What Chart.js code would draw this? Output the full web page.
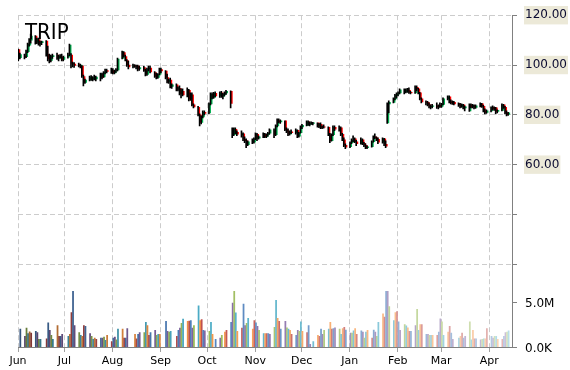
<!DOCTYPE html>
<html lang="en">
<head>
<meta charset="UTF-8">
<title>TRIP</title>
<script src="https://cdn.jsdelivr.net/npm/chart.js"></script>
<style>
  html, body { margin: 0; padding: 0; background: #fff; }
  #wrap { width: 570px; height: 370px; }
</style>
</head>
<body>
<div id="wrap"><canvas id="chart" width="570" height="370"></canvas></div>
<script>
const tickerName = 'TRIP';
const firstDay = '2017-06-01';
const monthStarts = ['2017-06-01', '2017-07-01', '2017-08-01', '2017-09-01', '2017-10-01', '2017-11-01',
                     '2017-12-01', '2018-01-01', '2018-02-01', '2018-03-01', '2018-04-01'];
const monthLabels = ['Jun', 'Jul', 'Aug', 'Sep', 'Oct', 'Nov', 'Dec', 'Jan', 'Feb', 'Mar', 'Apr'];
const priceTicks = [20, 40, 60, 80, 100, 120];
const priceLabels = ['', '', '60.00', '80.00', '100.00', '120.00'];
const volumeTicks = [0, 5];
const volumeLabels = ['0.0K', '5.0M'];

// one line per week, Mon..Fri (the first week starts on a Thursday)
const opens = [
  106.2, 103.0,
  103.6, 103.4, 105.4, 108.0, 110.0,
  111.6, 109.2, 110.2, 108.6, 109.0,
  109.6, 104.2, 102.6, 101.8, 103.4,
  104.0, 102.6, 103.4, 103.2, 102.2,
  103.2, 104.2, 104.0, 100.6, 100.4,
  100.2, 99.6, 99.6, 95.4, 93.0,
  94.0, 95.0, 94.2, 95.0, 94.4,
  95.0, 96.4, 95.2, 97.0, 97.8,
  97.4, 97.8, 96.8, 97.6, 98.0,
  102.6, 105.0, 103.4, 101.8, 100.0,
  99.4, 99.8, 99.4, 99.6, 98.4,
  99.0, 97.8, 96.2, 98.4, 98.8,
  97.0, 95.4, 95.0, 96.2, 98.2,
  97.6, 95.0, 93.4, 94.0, 91.4,
  92.0, 90.2, 90.6, 88.4, 89.4,
  88.0, 89.8, 86.4, 88.0, 84.0,
  83.0, 80.0, 77.0, 79.2, 81.0,
  80.8, 84.4, 88.2, 87.0, 88.6,
  87.6, 88.8, 87.4, 88.2, 88.8,
  89.4, 74.6, 72.0, 74.2, 73.0,
  72.0, 72.4, 70.2, 69.6, 68.0,
  69.2, 69.0, 70.4, 72.2, 70.6,
  71.2, 72.2, 71.2, 72.0, 72.6,
  73.6, 72.0, 75.6, 77.6, 77.2,
  77.6, 74.0, 73.4, 72.2, 73.2,
  72.8, 73.8, 71.4, 72.8, 75.2,
  75.8, 77.2, 76.2, 76.8, 76.6,
  76.8, 75.4, 76.2, 74.8, 75.2,
  75.0, 72.0, 69.6, 72.0, 75.0,
  74.2, 74.8, 72.2, 70.0, 67.8,
  67.2, 68.8, 69.8, 70.4, 69.2,
  68.4, 70.0, 68.6, 67.8, 66.8,
  67.2, 69.2, 71.2, 70.8, 70.2,
  69.0, 70.4, 68.2, 76.8, 84.4,
  85.0, 86.4, 87.8, 88.4, 88.8,
  90.0, 89.2, 90.0, 89.8, 89.0,
  88.8, 91.0, 90.4, 88.8, 86.4,
  85.2, 85.0, 84.0, 83.2, 83.4,
  83.6, 83.2, 83.8, 83.4, 84.2,
  86.4, 87.2, 85.2, 84.8, 85.0,
  84.4, 84.0, 83.4, 84.0, 82.8,
  81.6, 84.0, 83.2, 83.8, 83.0,
  83.6, 84.4, 83.4, 81.6, 81.0,
  81.6, 83.0, 82.4, 82.8, 81.4,
  81.8, 84.0, 83.0, 80.8, 80.2
];
const highs = [
  106.4, 104.8,
  104.4, 106.0, 108.8, 110.6, 112.4,
  111.8, 110.8, 110.8, 109.6, 109.6,
  109.8, 107.6, 104.4, 104.0, 104.4,
  104.8, 104.0, 104.2, 104.4, 103.6,
  104.8, 108.4, 104.6, 101.2, 101.0,
  100.8, 100.4, 99.8, 96.0, 94.4,
  95.6, 95.8, 95.4, 96.0, 95.6,
  96.8, 96.8, 97.4, 98.4, 98.4,
  98.8, 98.6, 98.0, 98.6, 102.8,
  105.6, 105.4, 104.0, 102.2, 101.6,
  100.4, 100.2, 100.0, 100.0, 99.6,
  99.6, 98.4, 98.8, 99.6, 99.6,
  97.4, 96.8, 96.6, 98.8, 98.8,
  97.8, 96.4, 94.4, 94.8, 92.4,
  92.4, 91.2, 91.6, 90.4, 90.4,
  90.8, 90.2, 88.8, 88.8, 84.4,
  83.4, 80.4, 79.6, 81.6, 81.6,
  84.8, 88.8, 88.8, 89.0, 89.2,
  89.2, 89.4, 88.6, 89.2, 89.8,
  89.6, 74.8, 74.8, 74.8, 73.6,
  73.6, 72.8, 71.2, 70.4, 69.6,
  70.4, 70.8, 72.8, 72.6, 71.6,
  72.8, 72.6, 72.4, 73.0, 74.4,
  74.4, 76.0, 78.4, 78.4, 78.0,
  77.6, 74.8, 74.4, 73.6, 74.0,
  74.4, 74.0, 73.0, 75.6, 76.2,
  77.6, 77.6, 77.2, 77.2, 77.0,
  76.8, 76.6, 76.8, 75.6, 76.0,
  75.2, 72.6, 72.4, 75.6, 75.6,
  75.6, 75.2, 72.6, 70.8, 68.4,
  69.2, 70.4, 71.6, 70.8, 69.8,
  70.8, 70.4, 69.0, 68.4, 67.6,
  69.6, 71.6, 72.4, 71.2, 70.8,
  70.8, 70.6, 69.6, 84.8, 85.6,
  86.8, 88.2, 88.8, 89.2, 90.4,
  90.4, 90.4, 90.6, 90.8, 89.4,
  91.6, 91.6, 90.6, 89.0, 86.8,
  85.6, 85.4, 84.8, 84.0, 84.2,
  84.8, 84.0, 84.8, 84.6, 86.8,
  87.6, 87.6, 86.0, 85.6, 85.4,
  84.8, 84.6, 84.4, 84.2, 83.6,
  84.4, 84.4, 84.2, 84.0, 84.0,
  84.8, 84.6, 83.8, 82.4, 82.0,
  83.2, 83.6, 83.2, 83.0, 82.0,
  84.4, 84.2, 83.4, 81.6, 81.0
];
const lows = [
  101.6, 102.4,
  102.4, 103.0, 105.0, 107.6, 108.8,
  108.4, 108.6, 108.0, 107.6, 108.2,
  103.6, 101.6, 100.8, 101.2, 102.6,
  102.2, 101.6, 102.8, 101.6, 101.6,
  102.8, 103.8, 98.8, 99.2, 99.0,
  99.2, 98.8, 95.0, 91.6, 92.6,
  93.6, 93.8, 93.6, 94.0, 93.6,
  93.6, 94.4, 95.0, 96.4, 96.8,
  96.6, 96.4, 96.4, 97.0, 97.6,
  102.4, 103.2, 101.6, 99.4, 98.4,
  98.8, 99.0, 98.4, 97.6, 97.8,
  97.4, 95.6, 95.8, 97.6, 96.8,
  95.0, 94.4, 94.6, 96.0, 96.8,
  94.4, 92.8, 92.6, 90.8, 90.6,
  89.6, 89.6, 88.0, 86.8, 87.6,
  87.2, 85.6, 85.8, 83.6, 82.8,
  79.6, 75.6, 76.4, 78.8, 80.0,
  80.4, 84.0, 86.4, 86.6, 87.2,
  87.0, 87.0, 86.4, 87.6, 88.2,
  82.8, 70.8, 71.6, 72.4, 71.6,
  71.0, 69.6, 68.8, 66.8, 67.6,
  68.4, 68.6, 70.0, 69.6, 70.2,
  70.8, 70.8, 70.8, 71.4, 72.2,
  70.8, 71.6, 75.2, 76.8, 76.6,
  73.6, 72.8, 71.6, 71.8, 72.4,
  72.2, 70.8, 71.0, 72.6, 74.4,
  75.6, 75.8, 75.6, 76.2, 76.0,
  75.0, 74.8, 74.4, 74.4, 74.6,
  71.6, 68.8, 69.4, 71.6, 73.6,
  73.4, 71.6, 69.6, 67.2, 66.4,
  66.8, 68.4, 69.2, 68.8, 67.6,
  68.2, 68.0, 67.2, 66.4, 66.4,
  67.0, 69.0, 70.4, 69.6, 68.4,
  68.6, 67.6, 66.8, 76.6, 80.8,
  84.8, 86.0, 86.8, 87.6, 88.4,
  88.4, 88.8, 89.0, 88.6, 88.4,
  88.6, 89.6, 88.4, 86.0, 84.8,
  84.0, 83.6, 82.8, 82.4, 82.8,
  82.6, 82.4, 83.0, 83.0, 84.0,
  86.0, 84.8, 84.4, 84.2, 84.0,
  83.4, 82.8, 83.0, 82.4, 81.6,
  81.4, 82.8, 82.8, 82.4, 82.6,
  83.2, 83.0, 81.2, 80.4, 80.6,
  81.2, 82.0, 81.8, 80.4, 80.8,
  81.6, 82.6, 80.4, 79.6, 79.8
];
const closes = [
  102.8, 104.2,
  103.2, 105.6, 108.4, 110.2, 111.6,
  109.0, 110.2, 108.4, 109.2, 109.4,
  104.0, 102.4, 101.6, 103.6, 103.8,
  102.6, 103.6, 103.2, 102.0, 103.2,
  104.0, 108.0, 100.6, 100.4, 99.8,
  99.6, 100.0, 95.6, 93.0, 94.0,
  95.2, 94.2, 95.0, 94.4, 95.2,
  96.4, 95.0, 97.0, 98.0, 97.4,
  97.8, 96.8, 97.6, 98.2, 102.4,
  105.2, 103.6, 102.0, 100.0, 99.2,
  99.8, 99.4, 99.6, 98.4, 99.0,
  97.8, 96.4, 98.4, 98.8, 97.2,
  95.4, 95.0, 96.2, 98.4, 97.6,
  95.0, 93.4, 94.0, 91.4, 92.0,
  90.2, 90.8, 88.4, 89.6, 88.0,
  89.8, 86.4, 88.2, 84.0, 83.2,
  80.2, 77.0, 79.2, 81.0, 80.6,
  84.4, 88.2, 87.0, 88.6, 87.6,
  88.8, 87.4, 88.2, 88.8, 89.4,
  84.6, 72.0, 74.4, 73.0, 72.2,
  72.4, 70.2, 69.6, 68.0, 69.2,
  69.0, 70.4, 72.2, 70.6, 71.2,
  72.2, 71.2, 72.0, 72.6, 74.0,
  72.0, 75.6, 77.6, 77.2, 77.6,
  74.0, 73.4, 72.2, 73.2, 72.8,
  73.8, 71.4, 72.6, 75.2, 75.8,
  77.2, 76.2, 76.8, 76.6, 76.8,
  75.4, 76.2, 74.8, 75.2, 75.0,
  72.0, 69.6, 72.0, 75.0, 74.2,
  74.8, 72.2, 70.0, 67.8, 67.0,
  68.8, 69.8, 70.4, 69.2, 68.4,
  70.0, 68.6, 67.8, 66.8, 67.2,
  69.2, 71.2, 70.8, 70.2, 69.0,
  70.4, 68.2, 67.4, 84.4, 85.0,
  86.4, 87.8, 88.4, 88.8, 90.0,
  89.2, 90.0, 89.6, 89.0, 88.8,
  91.0, 90.4, 88.8, 86.4, 85.2,
  85.0, 84.0, 83.2, 83.4, 83.6,
  83.2, 83.8, 83.4, 84.2, 86.4,
  87.2, 85.2, 84.8, 85.0, 84.4,
  84.0, 83.4, 84.0, 82.8, 83.2,
  84.0, 83.2, 83.8, 83.0, 83.6,
  84.4, 83.4, 81.6, 81.0, 81.6,
  83.0, 82.4, 82.8, 81.4, 81.8,
  84.0, 83.0, 80.8, 80.2, 80.8
];
// volume in millions of shares
const volumes = [
  null, 2.0,
  1.2, 2.1, 1.5, 1.7, 1.55,
  1.75, 1.6, 0.85, 0.85, null,
  0.9, 2.7, 1.85, 1.3, 0.85,
  2.4, 1.2, 1.2, 1.4, null,
  1.2, 1.4, 3.85, 6.2, 2.4,
  1.6, 1.3, 1.2, 2.4, 2.3,
  1.5, 1.2, 0.85, 1.0, 0.85,
  1.0, 1.0, 1.1, 0.75, 1.3,
  0.6, 1.0, 1.1, 0.8, 2.0,
  2.0, 1.0, 1.0, 2.05, null,
  null, 1.4, 0.9, 1.4, 1.6,
  1.6, 2.75, 2.4, 1.3, 1.6,
  1.85, 1.3, 1.4, 1.4, null,
  2.85, 1.75, 1.65, 1.75, null,
  1.2, 1.85, 2.1, 2.65, 3.1,
  2.85, 2.9, 2.95, 2.1, 2.4,
  4.6, 2.95, 3.05, 1.85, 1.8,
  1.75, 2.75, 1.4, null, 0.85,
  1.0, 1.3, null, 1.65, 1.85,
  2.75, 4.9, 6.2, 3.8, 1.75,
  2.1, 4.8, 2.4, 2.65, 3.2,
  2.0, 2.95, 2.7, 2.3, 1.85,
  1.5, 1.5, 1.5, 1.5, 1.4,
  2.2, 5.2, 3.2, 2.85, 2.0,
  2.85, 2.15, 2.0, 1.85, 1.4,
  1.3, 1.85, 1.75, 2.8, 1.75,
  1.6, 2.4, 0.3, null, 0.6,
  1.3, 1.2, 2.0, 1.4, 1.85,
  2.0, 2.75, 2.0, 2.05, 2.15,
  2.0, 1.4, 2.05, 2.2, 1.9,
  1.55, 1.55, 1.8, 2.05, 1.4,
  1.8, 1.65, 1.0, 1.65, 1.85,
  1.0, 1.9, 1.65, 1.2, 2.75,
  3.7, 3.35, 6.2, 6.2, 4.5,
  2.95, 3.85, 3.95, 2.8, 1.85,
  2.5, 2.35, 2.15, 1.75, 1.75,
  2.4, 4.2, 1.85, 2.5, 2.5,
  1.4, 1.4, 1.3, 1.3, 1.3,
  1.3, 1.65, 3.15, 2.8, 1.3,
  1.65, 2.3, 1.55, 0.85, null,
  1.0, 1.2, 1.55, 1.0, 1.2,
  2.8, 0.8, 1.85, 0.9, 0.9,
  0.8, 0.85, 0.9, 0.9, 2.05,
  1.2, 1.0, 1.2, 1.2, 0.85,
  0.85, 1.2, 1.6, 1.65, 1.8
];

const DAY = 86400000;
const start = Date.parse(firstDay);

// one trading day (weekday) per candle, x = days since firstDay, centred in the day
const xs = [];
for (let t = start; xs.length < closes.length; t += DAY) {
  const wd = new Date(t).getUTCDay();
  if (wd !== 0 && wd !== 6) xs.push((t - start) / DAY + 0.5);
}
const monthPos = monthStarts.map(d => (Date.parse(d) - start) / DAY);

const UP = '#00b050', DOWN = '#ff0000';
const volPalette = [[192, 80, 77], [79, 129, 189], [128, 100, 162], [155, 187, 89], [75, 172, 198], [247, 150, 70]];

// volume colours go from dark shades on the left to pale tints on the right
function volColor(i) {
  const c = volPalette[i % volPalette.length];
  const f = -0.35 + 0.95 * i / (volumes.length - 1);
  const rgb = c.map(v => Math.round(f < 0 ? v * (1 + f) : v + (255 - v) * f));
  return 'rgb(' + rgb.join(',') + ')';
}

const extras = {
  id: 'extras',
  afterDraw(chart) {
    const { ctx, chartArea, scales } = chart;
    const yv = scales.yv;
    ctx.save();
    ctx.strokeStyle = '#808080';
    ctx.lineWidth = 1;
    ctx.fillStyle = '#000';
    ctx.font = '12px "DejaVu Sans"';
    ctx.textAlign = 'left';
    ctx.textBaseline = 'middle';
    volumeTicks.forEach((v, i) => {
      const y = Math.round(yv.getPixelForValue(v)) + 0.5;
      ctx.beginPath();
      ctx.moveTo(chartArea.right, y);
      ctx.lineTo(chartArea.right + 5, y);
      ctx.stroke();
      ctx.fillText(volumeLabels[i], chartArea.right + 13, y + 1);
    });
    ctx.font = '22px "Liberation Sans Narrow", "DejaVu Sans Condensed", "DejaVu Sans"';
    ctx.textBaseline = 'alphabetic';
    ctx.fillText(tickerName, chartArea.left + 7, chartArea.top + 24);
    ctx.restore();
  }
};

new Chart(document.getElementById('chart'), {
  type: 'bar',
  data: {
    datasets: [
      {
        label: 'range',
        data: xs.map((x, i) => ({ x: x, y: [lows[i], highs[i]] })),
        backgroundColor: '#000',
        barThickness: 1,
        yAxisID: 'y'
      },
      {
        label: 'body',
        data: xs.map((x, i) => ({ x: x, y: [opens[i], closes[i]] })),
        backgroundColor: c => {
          const i = c.dataIndex;
          return closes[i] > opens[i] ? UP : closes[i] < opens[i] ? DOWN : '#000';
        },
        barThickness: 1.2,
        yAxisID: 'y'
      },
      {
        label: 'volume',
        data: xs.map((x, i) => ({ x: x, y: volumes[i] })),
        backgroundColor: c => volColor(c.dataIndex),
        barThickness: 1.1,
        grouped: false,
        yAxisID: 'yv'
      }
    ]
  },
  options: {
    responsive: false,
    devicePixelRatio: 1,
    animation: false,
    layout: { padding: { left: 18, top: 14, right: 0, bottom: 0 } },
    plugins: { legend: { display: false }, tooltip: { enabled: false } },
    scales: {
      x: {
        type: 'linear',
        min: 0,
        max: 318.7,
        offset: false,
        afterBuildTicks: s => { s.ticks = monthPos.map(v => ({ value: v })); },
        afterFit: s => { s.height = 23; },
        ticks: {
          autoSkip: false,
          maxRotation: 0,
          padding: 3,
          color: '#000',
          font: { family: 'DejaVu Sans', size: 11 },
          callback: (v, i) => monthLabels[i]
        },
        grid: { color: '#cccccc', tickColor: '#a0a0a0', tickLength: 5, offset: false },
        border: { color: '#808080', dash: [5, 3] }
      },
      y: {
        position: 'right',
        min: -13.2,
        max: 120,
        afterBuildTicks: s => { s.ticks = priceTicks.map(v => ({ value: v })); },
        afterFit: s => { s.width = 58; },
        ticks: {
          autoSkip: false,
          padding: 8,
          color: '#0a0a30',
          font: { family: 'DejaVu Sans', size: 12 },
          showLabelBackdrop: true,
          backdropColor: c => priceLabels[c.index] ? '#ece9d8' : 'rgba(0,0,0,0)',
          backdropPadding: { x: 1, y: 2 },
          callback: (v, i) => priceLabels[i]
        },
        grid: { color: '#cccccc', tickColor: '#808080', tickLength: 5 },
        border: { color: '#808080', dash: [5, 3] }
      },
      yv: {
        display: false,
        position: 'right',
        min: 0,
        max: 37
      }
    }
  },
  plugins: [extras]
});
</script>
</body>
</html>
